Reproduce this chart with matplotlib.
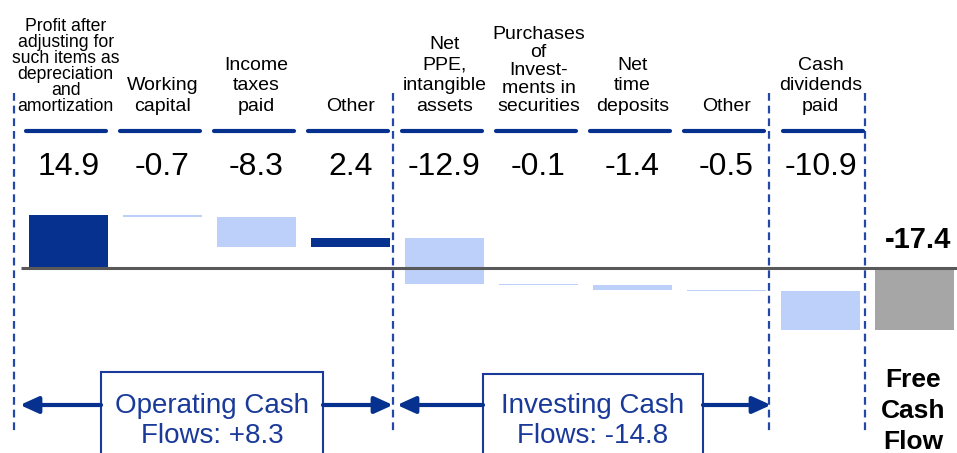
import matplotlib.pyplot as plt
from matplotlib.patches import Rectangle

plt.rcParams['font.family'] = ['Liberation Sans', 'DejaVu Sans']

# data
labels = ['Profit after\nadjusting for\nsuch items as\ndepreciation\nand\namortization',
          'Working\ncapital', 'Income\ntaxes\npaid', 'Other',
          'Net\nPPE,\nintangible\nassets', 'Purchases\nof\nInvest-\nments in\nsecurities',
          'Net\ntime\ndeposits', 'Other', 'Cash\ndividends\npaid']
values = [14.9, -0.7, -8.3, 2.4, -12.9, -0.1, -1.4, -0.5, -10.9]
total = -17.4
total_label = 'Free\nCash\nFlow'
groups = ['Operating Cash\nFlows: +8.3', 'Investing Cash\nFlows: -14.8']

dark = '#06318F'
light = '#BDD0FA'
grey = '#A6A6A6'
line_blue = '#2348A8'
text_blue = '#1A3A99'

W, H = 957, 453
fig = plt.figure(figsize=(W / 100, H / 100), dpi=100)
ax = fig.add_axes([0, 0, 1, 1])
ax.axis('off')

# map pixel layout onto data units
x0, step = 68.5, 94.0      # centre of first bar, bar spacing (px)
zero_px, scale = 268, 3.56  # row of the zero line, px per unit
ax.set_xlim(-x0 / step, (W - x0) / step)
ax.set_ylim(-(H - zero_px) / scale, zero_px / scale)

def px(x):
    return (x - x0) / step

def py(y):
    return (zero_px - y) / scale

# waterfall bars
bottoms = []
run = 0
for v in values:
    bottoms.append(run)
    run += v
xs = list(range(len(values)))
cols = [dark if v > 0 else light for v in values]
ax.bar(xs, values, bottom=bottoms, width=0.84, color=cols, linewidth=0, zorder=2)
ax.bar(len(values), total, width=0.84, color=grey, linewidth=0, zorder=2)

# zero line
ax.plot([px(21), px(W)], [0, 0], color='#595959', lw=2.2, solid_capstyle='butt', zorder=3)

# dashed separators
for xp in [14, 393, 769, 865]:
    ax.plot([px(xp), px(xp)], [py(93), py(432)], color=line_blue, lw=1.6,
            dashes=(3.5, 2.2), zorder=1)

# category labels, underlines and values
for i, lab in enumerate(labels):
    if i == 0:
        ax.text(i - 0.03, py(115), lab, ha='center', va='bottom', fontsize=12.7,
                linespacing=0.93)
    elif i == 5:
        ax.text(i, py(115), lab, ha='center', va='bottom', fontsize=14, linespacing=1.08)
    else:
        ax.text(i, py(115), lab, ha='center', va='bottom', fontsize=14, linespacing=1.27)
    shift = 3 if i == len(labels) - 1 else -2
    cx = x0 + step * i + shift
    ax.plot([px(cx - 40), px(cx + 40)], [py(131), py(131)], color=dark, lw=3,
            solid_capstyle='round')
    ax.text(i, py(175), f'{values[i]:.1f}', ha='center', va='baseline', fontsize=23)

# total
ax.text(len(values) + 0.04, py(248), f'{total:.1f}', ha='center', va='baseline',
        fontsize=21, fontweight='bold')
ax.text(len(values) - 0.01, py(449), total_label, ha='center', va='baseline',
        fontsize=19, fontweight='bold', linespacing=1.38)

# group boxes
for (l, r, top), txt in zip([(101, 323, 372), (483, 703, 374)], groups):
    ax.add_patch(Rectangle((px(l), py(475)), px(r) - px(l), py(top) - py(475),
                           fill=False, edgecolor=text_blue, lw=1.5))
    ax.text(px((l + r) / 2), py(443), txt, ha='center', va='baseline', fontsize=20,
            color=text_blue, linespacing=1.2)

# arrows
arrow = dict(arrowstyle='-|>,head_length=0.55,head_width=0.25', lw=3, color=dark,
             shrinkA=0, shrinkB=0, mutation_scale=20)
for start, tip in [(101, 20), (323, 393), (483, 397), (703, 771)]:
    ax.annotate('', xy=(px(tip), py(405)), xytext=(px(start), py(405)), arrowprops=arrow)

fig.savefig('out.png', dpi=100)
